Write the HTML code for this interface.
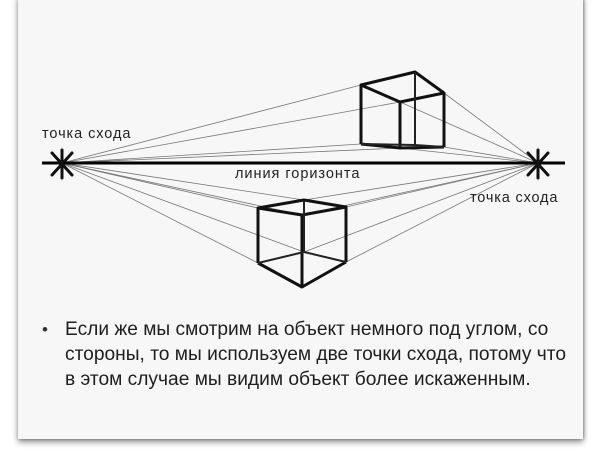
<!DOCTYPE html>
<html><head><meta charset="utf-8"><style>
body{margin:0;width:600px;height:458px;background:#fff;overflow:hidden;position:relative;font-family:"Liberation Sans",sans-serif}
.card{position:absolute;left:18px;top:-4px;width:565px;height:443px;background:#f8f7f8;box-shadow:0 3px 6px rgba(0,0,0,.45),1px 0 3px rgba(0,0,0,.3)}
.t{position:absolute;left:65px;top:317px;font-size:19.3px;line-height:25px;color:#1e1e1e;white-space:nowrap;transform:scaleX(0.995);transform-origin:0 0}
.b{position:absolute;left:42px;top:317px;font-size:17px;line-height:25px;color:#333}
</style></head><body>
<div class="card"></div>
<svg width="600" height="458" style="position:absolute;left:0;top:0">
<g stroke="#777" stroke-width="0.8" fill="none">
<line x1="62" y1="163" x2="361" y2="85"/><line x1="62" y1="163" x2="400" y2="102"/><line x1="62" y1="163" x2="361" y2="144"/><line x1="62" y1="163" x2="400" y2="148"/>
<line x1="538" y1="163" x2="444" y2="93"/><line x1="538" y1="163" x2="400" y2="102"/><line x1="538" y1="163" x2="444" y2="147"/><line x1="538" y1="163" x2="400" y2="148"/>
<line x1="62" y1="163" x2="304" y2="200"/><line x1="62" y1="163" x2="302" y2="215"/><line x1="62" y1="163" x2="258" y2="208"/><line x1="62" y1="163" x2="258" y2="263"/><line x1="62" y1="163" x2="304" y2="252"/>
<line x1="538" y1="163" x2="304" y2="200"/><line x1="538" y1="163" x2="346" y2="207"/><line x1="538" y1="163" x2="302" y2="215"/><line x1="538" y1="163" x2="346" y2="262"/><line x1="538" y1="163" x2="304" y2="252"/>
</g>
<line x1="42" y1="163" x2="565" y2="163" stroke="#000" stroke-width="3"/>
<g stroke="#111" stroke-width="3" stroke-linecap="round">
<line x1="62" y1="150" x2="62" y2="178"/><line x1="52" y1="153" x2="72" y2="175"/><line x1="72" y1="153" x2="52" y2="175"/>
<line x1="538" y1="150" x2="538" y2="178"/><line x1="528" y1="153" x2="548" y2="175"/><line x1="548" y1="153" x2="528" y2="175"/>
</g>
<g stroke="#111" stroke-width="3" fill="none" stroke-linejoin="round">
<polygon points="361,85 415,72 444,93 400,102"/>
<line x1="361" y1="85" x2="361" y2="144"/><line x1="400" y1="102" x2="400" y2="148"/><line x1="444" y1="93" x2="444" y2="147"/>
<polyline points="361,144 400,148 444,147"/>
<polygon points="258,208 304,200 346,207 302,215"/>
<line x1="258" y1="208" x2="258" y2="263"/><line x1="302" y1="215" x2="302" y2="287"/><line x1="346" y1="207" x2="346" y2="262"/>
<polyline points="258,263 302,287 346,262"/>
</g>
<g stroke="#222" stroke-width="2" fill="none">
<line x1="415" y1="72" x2="415" y2="145"/><line x1="361" y1="144" x2="415" y2="145"/><line x1="415" y1="145" x2="444" y2="147"/>
<line x1="304" y1="200" x2="304" y2="252"/><line x1="258" y1="263" x2="304" y2="252"/><line x1="304" y1="252" x2="346" y2="262"/>
</g>
<g font-family="Liberation Sans,sans-serif" font-size="14.5" fill="#222" letter-spacing="0.6">
<text x="42" y="138" textLength="89">точка схода</text>
<text x="235" y="178" textLength="125">линия горизонта</text>
<text x="470" y="202" textLength="88">точка схода</text>
</g>
</svg>
<div class="b">•</div>
<div class="t">Если же мы смотрим на объект немного под углом, со<br>стороны, то мы используем две точки схода, потому что<br>в этом случае мы видим объект более искаженным.</div>
</body></html>
